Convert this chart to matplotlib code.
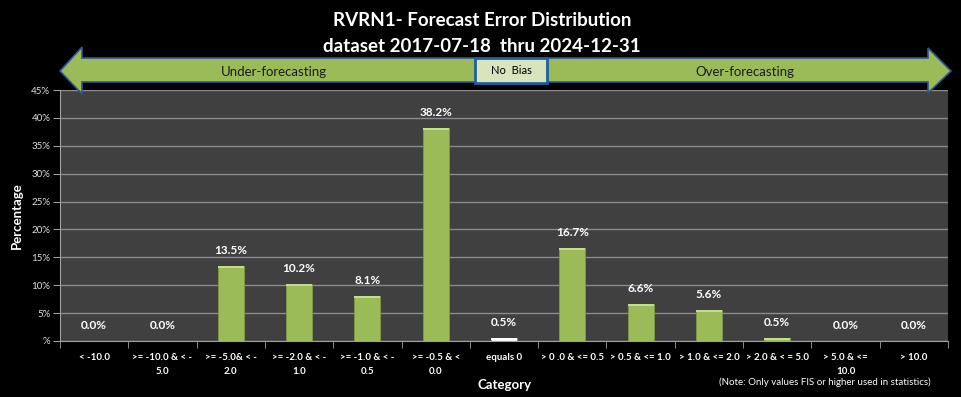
import matplotlib
matplotlib.use("Agg")
import matplotlib.pyplot as plt
from matplotlib.patches import Polygon, Rectangle
import numpy as np

categories = ["< -10.0", ">= -10.0 & < -\n5.0", ">= -5.0& < -\n2.0", ">= -2.0 & < -\n1.0",
              ">= -1.0 & < -\n0.5", ">= -0.5 & <\n0.0", "equals 0", "> 0 .0 & <= 0.5",
              "> 0.5 & <= 1.0", "> 1.0 & <= 2.0", "> 2.0 & < = 5.0", "> 5.0 & <=\n10.0", "> 10.0"]
values = [0.0, 0.0, 13.5, 10.2, 8.1, 38.2, 0.5, 16.7, 6.6, 5.6, 0.5, 0.0, 0.0]
bar_colors = ["#9bbb59"] * 6 + ["#f2f2f2"] + ["#9bbb59"] * 6
yticks = [0, 5, 10, 15, 20, 25, 30, 35, 40, 45]
ytick_labels = ["%", "5%", "10%", "15%", "20%", "25%", "30%", "35%", "40%", "45%"]

plt.rcParams['font.family'] = ['Lato', 'DejaVu Sans']

W, H = 961, 397
fig = plt.figure(figsize=(W / 100, H / 100), dpi=100, facecolor="black")

L, R, T, B = 60, 948, 90, 341
ax = fig.add_axes([L / W, 1 - B / H, (R - L) / W, (B - T) / H])
ax.set_facecolor("#404040")

x = np.arange(len(values))
bars = ax.bar(x, values, width=0.38, color=bar_colors, edgecolor="#7f9a45", linewidth=0.6, zorder=3)
# bevel highlight on top of bars
for xi, v, c in zip(x, values, bar_colors):
    if v > 0:
        hl = "#c4dc8c" if c == "#9bbb59" else "#ffffff"
        ax.bar(xi, min(0.35, v), bottom=v - min(0.35, v), width=0.38, color=hl, linewidth=0, zorder=4)

for xi, v in zip(x, values):
    ax.annotate(f"{v:.1f}%", (xi, v), xytext=(0, 7), textcoords="offset points",
                ha="center", va="bottom", color="white", fontsize=8.5, fontweight="bold")

ax.set_xlim(-0.5, len(values) - 0.5)
ax.set_ylim(0, 45)
ax.set_yticks(yticks)
ax.set_yticklabels(ytick_labels, color="#e0e0e0", fontsize=7)
ax.yaxis.grid(True, color="#8c8c8c", linewidth=1.0, zorder=0)
ax.set_axisbelow(True)

ax.set_xticks(x)
ax.set_xticklabels(categories, color="white", fontsize=7, fontweight="bold", linespacing=1.6)
ax.set_xticks(np.arange(len(values) + 1) - 0.5, minor=True)
ax.tick_params(axis="x", which="major", length=0, pad=9)
ax.tick_params(axis="x", which="minor", length=5, color="#a0a0a0", direction="out")
ax.tick_params(axis="y", length=5, color="#a0a0a0", direction="out", pad=2)

for s in ["top", "right"]:
    ax.spines[s].set_visible(False)
ax.spines["left"].set_color("#a0a0a0")
ax.spines["bottom"].set_color("#a0a0a0")

ax.set_ylabel("Percentage", color="white", fontsize=9.5, fontweight="bold", labelpad=6)
fig.text(505 / W, 1 - 385 / H, "Category", color="white", fontsize=9.5, fontweight="bold",
         ha="center", va="center")
fig.text(825 / W, 1 - 382 / H, "(Note: Only values FIS or higher used in statistics)",
         color="white", fontsize=7, ha="center", va="center")

fig.text(482 / W, 1 - 20 / H, "RVRN1- Forecast Error Distribution", color="white", fontsize=13.5,
         fontweight="bold", ha="center", va="center")
fig.text(482 / W, 1 - 47 / H, "dataset 2017-07-18  thru 2024-12-31", color="white", fontsize=13.5,
         fontweight="bold", ha="center", va="center")

# overlay for arrow
ov = fig.add_axes([0, 0, 1, 1], facecolor="none", zorder=10)
ov.set_xlim(0, W)
ov.set_ylim(H, 0)
ov.axis("off")
arrow = [(60, 71), (82, 47), (82, 58), (928, 58), (928, 48), (951, 71), (928, 93),
         (928, 82), (82, 82), (82, 94)]
ov.add_patch(Polygon(arrow, closed=True, facecolor="#9bbb59", edgecolor="#2f5597", linewidth=1.2))
ov.add_patch(Rectangle((475, 58), 72, 25, facecolor="#d7e4bd", edgecolor="#1f5f9f", linewidth=2.0))
ov.text(511, 71, "No  Bias", ha="center", va="center", fontsize=8, color="black")
ov.text(274, 72, "Under-forecasting", ha="center", va="center", fontsize=9.5, color="#1a1a1a")
ov.text(745, 72, "Over-forecasting", ha="center", va="center", fontsize=9.5, color="#1a1a1a")

fig.savefig("out.png", dpi=100, facecolor="black")
